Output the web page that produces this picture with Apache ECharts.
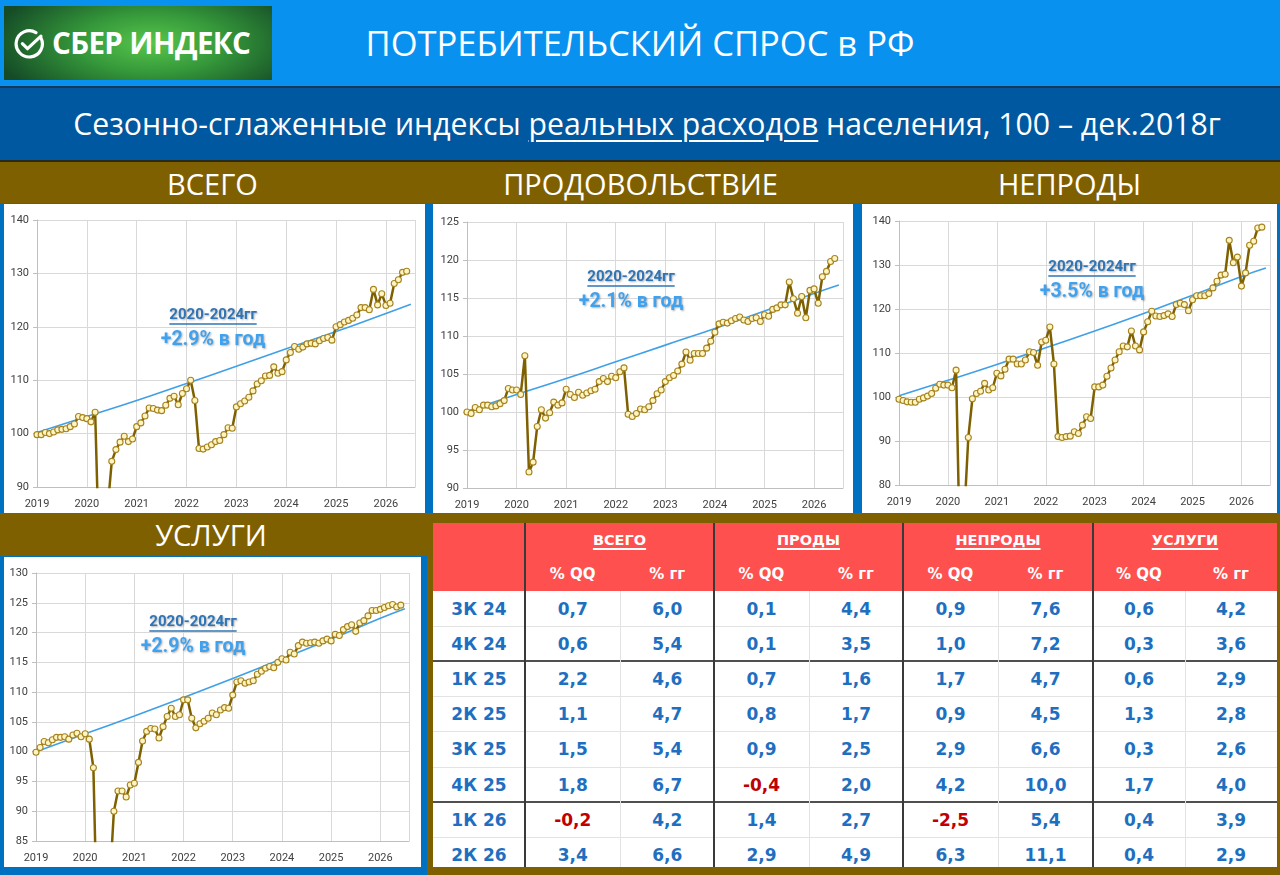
<!DOCTYPE html>
<html><head><meta charset="utf-8">
<script src="https://cdn.jsdelivr.net/npm/echarts@6/dist/echarts.min.js"></script>
<style>
html,body{margin:0;padding:0;}
body{width:1280px;height:875px;position:relative;overflow:hidden;background:#7F6000;font-family:Roboto,'Open Sans',sans-serif;}
.a{position:absolute;}
#top{left:0;top:0;width:1280px;height:86px;background:#0991F0;}
#sep1{left:0;top:86px;width:1280px;height:2px;background:#17385C;}
#band2{left:0;top:88px;width:1280px;height:72px;background:#0058A0;}
#sep2{left:0;top:160px;width:1280px;height:2px;background:#2A2A1A;}
#logo{left:4px;top:6px;width:268px;height:74px;background:radial-gradient(ellipse 60% 90% at 55% 50%,#57C64C 0%,#35983A 45%,#154C27 100%);}
#logoText{left:48px;top:0;height:74px;line-height:74px;color:#fff;font-weight:bold;font-size:29.5px;font-family:'Open Sans',Roboto,sans-serif;letter-spacing:-0.6px;}
#title{left:0;top:0;width:1280px;height:86px;line-height:86px;text-align:center;color:#fff;font-size:34.5px;font-family:'Open Sans',Roboto,sans-serif;}
#sub{left:0;top:88px;width:1294px;height:72px;line-height:72px;text-align:center;color:#fff;font-size:30.2px;font-family:'Open Sans',Roboto,sans-serif;}
#sub u{text-decoration-thickness:2px;text-underline-offset:5px;}
.sec{color:#fff;font-size:29px;font-family:'Open Sans',Roboto,sans-serif;text-align:center;height:42px;line-height:42px;}
#row1{left:0;top:203px;width:1280px;height:310px;background:#0070C0;}
#row2{left:0;top:556px;width:427px;height:319px;background:#0070C0;}
.chart{background:#fff;}
#tbl{left:433px;top:523px;width:844px;height:344px;overflow:hidden;background:#fff;font-family:'DejaVu Sans',Verdana,sans-serif;font-weight:bold;}
.cell{position:absolute;display:flex;align-items:center;justify-content:center;}
</style></head>
<body>
<div class="a" id="top"></div>
<div class="a" id="sep1"></div>
<div class="a" id="band2"></div>
<div class="a" id="sep2"></div>
<div class="a" id="logo">
  <svg class="a" style="left:9px;top:22px" width="32" height="32" viewBox="0 0 30 30">
    <path d="M26.3 9.5 A12.3 12.3 0 1 1 21.5 4.3" fill="none" stroke="#fff" stroke-width="3" stroke-linecap="round"/>
    <path d="M8.8 14.6 L13.6 19.4 L26.2 7.6" fill="none" stroke="#fff" stroke-width="3" stroke-linecap="round" stroke-linejoin="round"/>
  </svg>
  <div class="a" id="logoText">СБЕР ИНДЕКС</div>
</div>
<div class="a" id="title">ПОТРЕБИТЕЛЬСКИЙ СПРОС в РФ</div>
<div class="a" id="sub">Сезонно-сглаженные индексы <u>реальных расходов</u> населения, 100 – дек.2018г</div>

<div class="a sec" style="left:0;top:163px;width:425px;">ВСЕГО</div>
<div class="a sec" style="left:428px;top:163px;width:425px;">ПРОДОВОЛЬСТВИЕ</div>
<div class="a sec" style="left:857px;top:163px;width:425px;">НЕПРОДЫ</div>
<div class="a sec" style="left:0;top:514px;width:422px;">УСЛУГИ</div>

<div class="a" id="row1"></div>
<div class="a" id="row2"></div>
<div class="a chart" id="c1" style="left:4px;top:204px;width:421px;height:309px;"></div>
<div class="a chart" id="c2" style="left:433px;top:204px;width:420px;height:309px;"></div>
<div class="a chart" id="c3" style="left:862px;top:204px;width:415px;height:309px;"></div>
<div class="a chart" id="c4" style="left:4px;top:557px;width:417px;height:310px;"></div>
<div class="a" id="tbl"></div>

<script>
// ---------- DATA ----------
const yearLabels = ['2019','2020','2021','2022','2023','2024','2025','2026'];
// monthly, Jan 2019 .. Jun 2026
const totalIndex = [
 99.8, 99.8,100.2,100.0,100.3,100.7,100.8,100.9,101.3,101.8,103.2,103.0,
 102.8,102.2,104.0, 76.0, 80.0, 86.0, 94.8, 97.0, 98.4, 99.5, 98.5, 99.0,
 101.3,102.0,103.3,104.8,104.7,104.4,104.3,105.3,106.6,107.0,105.4,107.5,
 108.4,110.0,106.2, 97.2, 97.1, 97.5, 97.9, 98.5, 98.7, 99.8,101.1,101.0,
 105.0,105.6,106.1,106.8,108.0,109.3,109.9,110.8,110.9,112.5,111.3,111.6,
 113.8,115.2,116.3,115.8,116.2,116.8,116.9,116.8,117.4,117.8,118.0,117.5,
 120.0,120.4,120.9,121.2,121.6,122.2,123.6,123.6,123.2,127.0,124.1,126.2,
 124.0,124.4,128.1,128.8,130.2,130.4];
const foodIndex = [
 100.0, 99.8,100.6,100.3,100.9,100.9,100.7,100.8,101.1,101.5,103.1,102.9,
 102.9,102.3,107.4, 92.1, 93.4, 98.1,100.3, 99.2, 99.9,101.3,100.9,101.2,
 103.0,102.3,101.9,102.6,102.2,102.5,102.8,103.0,104.0,104.4,104.0,104.7,
 104.5,105.3,105.8, 99.7, 99.4, 99.8,100.4,100.3,100.7,101.5,102.4,102.9,
 104.0,104.5,104.8,105.4,106.3,107.9,106.8,107.7,107.7,107.7,108.4,109.3,
 110.5,111.6,111.8,111.7,112.0,112.3,112.5,112.1,111.9,112.3,112.4,111.9,
 112.8,112.6,113.5,113.7,114.1,114.1,117.1,114.9,113.0,115.2,112.4,116.0,
 116.2,114.3,117.8,118.5,119.8,120.2];
const nonfoodIndex = [
 99.5, 99.2, 98.9, 98.8, 98.8, 99.5, 99.8,100.2,100.8,102.0,102.9,102.7,
 102.7,102.1,106.1, 62.0, 73.0, 90.8, 99.6,100.8,101.3,103.1,101.6,102.1,
 105.4,104.8,106.3,108.6,108.6,107.5,107.5,108.4,110.3,110.1,107.2,112.5,
 112.9,115.9,107.5, 91.0, 90.8, 91.0, 91.1, 92.1, 91.7, 93.6, 95.5, 95.1,
 102.3,102.3,102.7,104.7,106.6,108.4,110.3,111.6,111.4,115.0,111.6,110.7,
 114.8,117.1,119.5,118.4,118.3,118.5,118.9,118.3,121.0,121.3,121.0,119.6,
 122.1,123.0,123.0,123.0,123.5,124.8,126.3,127.7,127.9,135.6,130.5,131.8,
 125.2,128.2,134.5,135.4,138.4,138.6];
const servicesIndex = [
 99.9,100.7,101.7,101.5,102.0,102.4,102.4,102.5,102.1,102.8,103.1,102.5,
 103.0,102.1, 97.3, 68.0, 70.0, 75.0, 78.0, 90.0, 93.4, 93.4, 92.4, 94.4,
 94.7, 98.2,101.8,103.4,103.9,103.8,102.3,104.2,105.9,107.3,105.9,106.2,
 108.7,108.7,105.6,104.0,104.7,105.1,105.6,106.5,106.2,107.0,107.4,107.3,
 109.5,111.7,111.9,111.5,111.7,111.9,113.0,113.5,114.0,114.3,114.1,115.0,
 115.6,115.4,116.7,116.4,117.8,118.4,118.2,118.3,118.4,118.2,118.6,118.9,
 118.6,119.7,119.5,120.5,121.0,121.3,120.2,121.6,122.0,122.8,123.7,123.7,
 123.9,124.2,124.5,124.7,124.3,124.6];
// trend lines (read at each January and at the last month)
const trendMonths   = [0,12,24,36,48,60,72,84,90];
const totalTrend    = [100.2,103.2,106.2,109.4,112.6,115.9,119.1,122.5,124.2];
const foodTrend     = [100.1,102.3,104.4,106.6,108.8,111.0,113.3,115.6,116.7];
const nonfoodTrend  = [100.3,103.8,107.4,111.2,115.0,119.0,123.1,127.4,129.3];
const servicesTrend = [100.0,103.0,106.0,109.1,112.3,115.6,118.9,122.4,124.0];
const periodLabel = '2020-2024гг';
const rateLabels = ['+2.9% в год','+2.1% в год','+3.5% в год','+2.9% в год'];

// table
const quarters = ['3К 24','4К 24','1К 25','2К 25','3К 25','4К 25','1К 26','2К 26'];
const groupNames = ['ВСЕГО','ПРОДЫ','НЕПРОДЫ','УСЛУГИ'];
const subHeaders = ['% QQ','% гг'];
const totalQQ    = [0.7,0.6,2.2,1.1,1.5,1.8,-0.2,3.4];
const totalYY    = [6.0,5.4,4.6,4.7,5.4,6.7,4.2,6.6];
const foodQQ     = [0.1,0.1,0.7,0.8,0.9,-0.4,1.4,2.9];
const foodYY     = [4.4,3.5,1.6,1.7,2.5,2.0,2.7,4.9];
const nonfoodQQ  = [0.9,1.0,1.7,0.9,2.9,4.2,-2.5,6.3];
const nonfoodYY  = [7.6,7.2,4.7,4.5,6.6,10.0,5.4,11.1];
const servicesQQ = [0.6,0.3,0.6,1.3,0.3,1.7,0.4,0.4];
const servicesYY = [4.2,3.6,2.9,2.8,2.6,4.0,3.9,2.9];

// ---------- CHARTS ----------
const measureCtx = document.createElement('canvas').getContext('2d');
function textW(font, t){ measureCtx.font = font; return measureCtx.measureText(t).width; }

function makeChart(id, values, trend, yMin, yMax, yInt, grid, ann, rate){
  const chart = echarts.init(document.getElementById(id), null, {renderer:'canvas'});
  const f1 = 'bold 15px Roboto';
  const f2 = 'bold 19.5px Roboto';
  const w1 = textW(f1, periodLabel);
  chart.setOption({
    animation:false,
    backgroundColor:'#fff',
    grid:Object.assign({containLabel:false}, grid),
    xAxis:{type:'value', min:0, max:91, interval:12,
      axisLine:{show:true, onZero:false, lineStyle:{color:'#BFBFBF', width:1}},
      axisTick:{show:false},
      splitLine:{show:true, lineStyle:{color:'#D9D9D9', width:1}},
      axisLabel:{color:'#404040', fontSize:11, fontFamily:'Roboto', margin:12,
        formatter:v => (v % 12 === 0 ? yearLabels[v/12] : '')}},
    yAxis:{type:'value', min:yMin, max:yMax, interval:yInt,
      axisLine:{show:true, lineStyle:{color:'#BFBFBF', width:1}},
      axisTick:{show:true, length:4, lineStyle:{color:'#BFBFBF'}},
      splitLine:{show:true, lineStyle:{color:'#D9D9D9', width:1}},
      axisLabel:{color:'#404040', fontSize:11, fontFamily:'Roboto', margin:8}},
    series:[
      {type:'line', data:trendMonths.map((m,i)=>[m, trend[i]]), smooth:true, symbol:'none',
       lineStyle:{color:'#3FA0E8', width:1.6}, z:2, silent:true},
      {type:'line', data:values.map((v,i)=>[i, v]), symbol:'circle', symbolSize:6, clip:true,
       lineStyle:{color:'#7F6000', width:2.5}, itemStyle:{color:'#FFF4C2', borderColor:'#A5831F', borderWidth:1.1},
       z:3, silent:true}
    ],
    graphic:[
      {type:'text', x:ann[0], y:ann[1], z:10, style:{text:periodLabel, font:f1, fill:'#2F74B5',
        align:'center', verticalAlign:'middle', textAlign:'center', textVerticalAlign:'middle',
        textShadowColor:'rgba(0,0,0,0.3)', textShadowBlur:2, textShadowOffsetX:1, textShadowOffsetY:1}},
      {type:'line', z:10, shape:{x1:ann[0]-w1/2, y1:ann[1]+9, x2:ann[0]+w1/2, y2:ann[1]+9},
        style:{stroke:'#2F74B5', lineWidth:1.5}},
      {type:'text', x:ann[0], y:ann[1]+25, z:10, style:{text:rate, font:f2, fill:'#3FA2F0',
        align:'center', verticalAlign:'middle', textAlign:'center', textVerticalAlign:'middle',
        textShadowColor:'rgba(0,0,0,0.3)', textShadowBlur:2, textShadowOffsetX:1, textShadowOffsetY:1}}
    ]
  });
}
makeChart('c1', totalIndex, totalTrend, 90, 140, 10, {left:33, right:10, top:16, bottom:26}, [209,111], rateLabels[0]);
makeChart('c2', foodIndex, foodTrend, 90, 125, 5, {left:34, right:10, top:18, bottom:25}, [198,73], rateLabels[1]);
makeChart('c3', nonfoodIndex, nonfoodTrend, 80, 140, 10, {left:37, right:7, top:17, bottom:28}, [230,63], rateLabels[2]);
makeChart('c4', servicesIndex, servicesTrend, 85, 130, 5, {left:32, right:12, top:16, bottom:26}, [189,65], rateLabels[3]);

// ---------- TABLE ----------
(function(){
  const tbl = document.getElementById('tbl');
  const colX = [0,92,187.5,281,376,470,565,660,752,844];
  const rowY = [68,103.2,138.4,173.6,208.8,244,279.2,314.4,349.6];
  const cols = [totalQQ,totalYY,foodQQ,foodYY,nonfoodQQ,nonfoodYY,servicesQQ,servicesYY];
  const fmt = v => v.toFixed(1).replace('.', ',');
  let h = '';
  const box = (x,y,w,hh,style,content) => `<div class="cell" style="left:${x}px;top:${y}px;width:${w}px;height:${hh}px;${style}">${content||''}</div>`;
  h += `<div class="a" style="left:0;top:0;width:844px;height:68px;background:#FF5050;"></div>`;
  groupNames.forEach((g,gi)=>{
    const x0 = colX[1+gi*2], x1 = colX[3+gi*2];
    h += box(x0,0,x1-x0,34,'color:#fff;font-size:14.5px;', `<span style="text-decoration:underline;text-underline-offset:3px;text-decoration-thickness:1.5px">${g}</span>`);
    subHeaders.forEach((s,si)=>{
      const a = colX[1+gi*2+si], b = colX[2+gi*2+si];
      h += box(a,34,b-a,34,'color:#fff;font-size:15px;', s);
    });
  });
  quarters.forEach((q,ri)=>{
    const y0 = rowY[ri], y1 = rowY[ri+1];
    h += box(colX[0],y0,colX[1]-colX[0],y1-y0,'color:#1F6FC0;font-size:17px;', q);
    cols.forEach((c,ci)=>{
      const v = c[ri];
      h += box(colX[ci+1],y0,colX[ci+2]-colX[ci+1],y1-y0,'font-size:17px;color:'+(v<0?'#C00000':'#1F6FC0')+';', fmt(v));
    });
    if (ri < quarters.length-1){
      const thick = (ri===1 || ri===5);
      h += `<div class="a" style="left:0;top:${y1-(thick?1:0.5)}px;width:844px;height:${thick?2:1}px;background:${thick?'#505050':'#E3E3E3'};"></div>`;
    }
  });
  [2,4,6,8].forEach(ci=>{
    h += `<div class="a" style="left:${colX[ci]-0.5}px;top:68px;width:1px;height:276px;background:#E3E3E3;"></div>`;
  });
  [1,3,5,7].forEach(ci=>{
    h += `<div class="a" style="left:${colX[ci]-0.75}px;top:0;width:1.5px;height:344px;background:#3A3A3A;"></div>`;
  });
  tbl.innerHTML = h;
})();
</script>
</body></html>
